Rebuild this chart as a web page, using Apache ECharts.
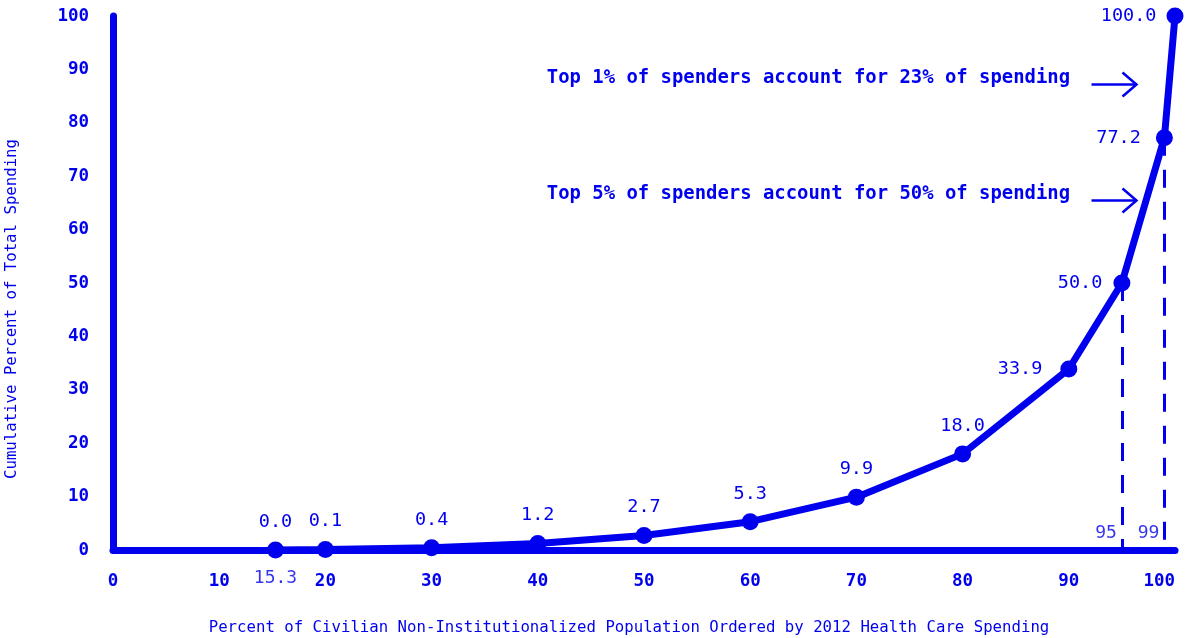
<!DOCTYPE html>
<html>
<head>
<meta charset="utf-8">
<script src="https://cdn.jsdelivr.net/npm/echarts@6/dist/echarts.min.js"></script>
<style>
  html, body { margin: 0; padding: 0; background: #fff; }
  #main { width: 1190px; height: 638px; }
</style>
</head>
<body>
<div id="main"></div>
<script>
// cumulative spending curve
var pctPopulation = [15.3, 20, 30, 40, 50, 60, 70, 80, 90, 95, 99, 100];
var cumSpending = [0.0, 0.1, 0.4, 1.2, 2.7, 5.3, 9.9, 18.0, 33.9, 50.0, 77.2, 100.0];
// where the value label sits
var labelSide = ["top", "top", "top", "top", "top", "top", "top", "top", "left", "left", "left", "left"];
var labelGap = [10, 10, 10, 10, 10, 10, 10, 10, 18, 11, 15, 10];
// dashed guides
var guideX = [95, 99];
var guideTop = [50.0, 77.2];
var xTicks = [0, 10, 20, 30, 40, 50, 60, 70, 80, 90, 100];

var BLUE = "#0000ee";
var MONO = "'DejaVu Sans Mono', 'Liberation Mono', monospace";

var myChart = echarts.init(document.getElementById("main"));

var lineData = pctPopulation.map(function(x, i) {
  return {
    value: [x, cumSpending[i]],
    label: { position: labelSide[i], distance: labelGap[i] }
  };
});

var guideLines = guideX.map(function(x, i) {
  return [{ coord: [x, guideTop[i]] }, { coord: [x, 0] }];
});

var option = {
  animation: false,
  grid: { left: 113, right: 15, top: 16, bottom: 88, containLabel: false, outerBoundsMode: "none" },
  xAxis: {
    type: "value",
    min: 0,
    max: 100,
    interval: 10,
    name: "Percent of Civilian Non-Institutionalized Population Ordered by 2012 Health Care Spending",
    nameLocation: "middle",
    nameGap: 70,
    nameTextStyle: { color: BLUE, fontFamily: MONO, fontSize: 15.7, padding: [0, 30, 0, 0] },
    axisLine: { show: true, lineStyle: { color: BLUE, width: 7 } },
    axisTick: { show: false },
    splitLine: { show: false },
    axisLabel: {
      color: BLUE,
      fontFamily: MONO,
      fontWeight: "bold",
      fontSize: 17.5,
      margin: 22,
      alignMaxLabel: "right",
      formatter: function(v) { return xTicks.indexOf(v) >= 0 ? String(v) : ""; }
    }
  },
  yAxis: {
    type: "value",
    min: 0,
    max: 100,
    interval: 10,
    name: "Cumulative Percent of Total Spending",
    nameLocation: "middle",
    nameGap: 93,
    nameTextStyle: { color: BLUE, fontFamily: MONO, fontSize: 15.7, padding: [0, 52, 0, 0] },
    axisLine: { show: true, lineStyle: { color: BLUE, width: 7 } },
    axisTick: { show: false },
    splitLine: { show: false },
    axisLabel: {
      color: BLUE,
      fontFamily: MONO,
      fontWeight: "bold",
      fontSize: 17.5,
      margin: 24
    }
  },
  series: [
    {
      type: "line",
      data: lineData,
      clip: false,
      symbol: "circle",
      symbolSize: 17,
      z: 5,
      lineStyle: { color: BLUE, width: 7 },
      itemStyle: { color: BLUE },
      label: {
        show: true,
        color: BLUE,
        fontFamily: MONO,
        fontSize: 18.5,
        formatter: function(p) { return p.value[1].toFixed(1); }
      },
      markLine: {
        silent: true,
        symbol: ["none", "none"],
        lineStyle: { color: BLUE, width: 3, type: [18, 14] },
        label: { show: false },
        data: guideLines
      }
    },
    {
      // text markers under/beside guide points
      type: "scatter",
      symbolSize: 0,
      clip: false,
      silent: true,
      data: [
        { value: [15.3, 0], label: { formatter: "15.3", position: "bottom", distance: 19 } },
        { value: [95, 0], label: { formatter: "95", position: "left", offset: [0, -17], distance: 5 } },
        { value: [99, 0], label: { formatter: "99", position: "left", offset: [0, -17], distance: 5 } }
      ],
      label: {
        show: true,
        color: BLUE,
        fontFamily: MONO,
        fontSize: 18
      }
    }
  ],
  graphic: [
    {
      type: "text",
      right: 120,
      top: 69,
      style: {
        text: "Top 1% of spenders account for 23% of spending",
        fill: BLUE,
        font: "bold 18.9px " + MONO
      }
    },
    {
      type: "text",
      right: 120,
      top: 185,
      style: {
        text: "Top 5% of spenders account for 50% of spending",
        fill: BLUE,
        font: "bold 18.9px " + MONO
      }
    },
    {
      type: "group",
      left: 1089,
      top: 70,
      children: [
        { type: "line", shape: { x1: 0, y1: 12, x2: 45, y2: 12 }, style: { stroke: BLUE, lineWidth: 2.5 } },
        { type: "polyline", shape: { points: [[31, 0], [45, 12], [31, 24]] }, style: { stroke: BLUE, lineWidth: 2.5, fill: null } }
      ]
    },
    {
      type: "group",
      left: 1089,
      top: 186,
      children: [
        { type: "line", shape: { x1: 0, y1: 12, x2: 45, y2: 12 }, style: { stroke: BLUE, lineWidth: 2.5 } },
        { type: "polyline", shape: { points: [[31, 0], [45, 12], [31, 24]] }, style: { stroke: BLUE, lineWidth: 2.5, fill: null } }
      ]
    }
  ]
};

myChart.setOption(option);
</script>
</body>
</html>
